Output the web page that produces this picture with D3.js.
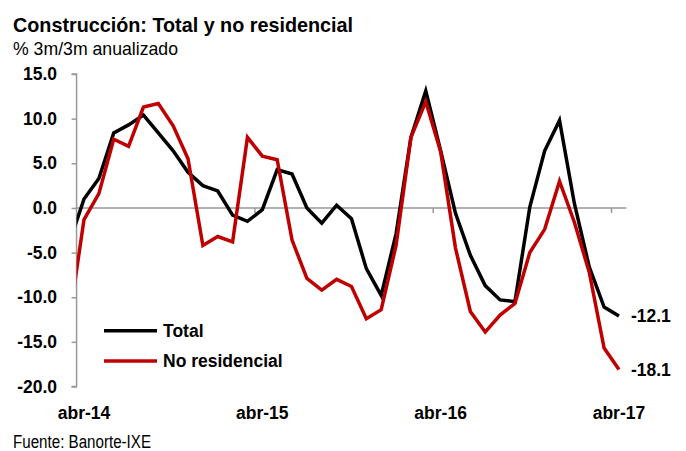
<!DOCTYPE html>
<html lang="es">
<head>
<meta charset="UTF-8">
<title>Construcción</title>
<script src="https://d3js.org/d3.v7.min.js"></script>
<style>
  body { margin: 0; background: #fff; }
  text { font-family: "Liberation Sans", Arial, sans-serif; }
</style>
</head>
<body>
<div id="chart"></div>
<script>
// months (first point mar-14 sits left of the axis and gets clipped)
var months = ["mar-14","abr-14","may-14","jun-14","jul-14","ago-14","sep-14","oct-14","nov-14","dic-14",
  "ene-15","feb-15","mar-15","abr-15","may-15","jun-15","jul-15","ago-15","sep-15","oct-15","nov-15","dic-15",
  "ene-16","feb-16","mar-16","abr-16","may-16","jun-16","jul-16","ago-16","sep-16","oct-16","nov-16","dic-16",
  "ene-17","feb-17","mar-17","abr-17"];

var total = [-4.0, 1.0, 3.3, 8.4, 9.3, 10.4, 8.4, 6.4, 4.0, 2.5, 1.9,
  -0.8, -1.5, -0.2, 4.3, 3.8, 0.0, -1.7, 0.3, -1.2, -6.8, -9.8,
  -2.9, 7.9, 13.1, 6.4, -0.6, -5.3, -8.7, -10.3, -10.5, 0.1, 6.4, 9.8,
  0.5, -6.6, -11.1, -12.1];

var noResidencial = [-12.7, -1.3, 1.6, 7.7, 6.9, 11.3, 11.7, 9.2, 5.5, -4.2, -3.2,
  -3.8, 7.9, 5.8, 5.4, -3.6, -7.9, -9.2, -8.0, -8.8, -12.4, -11.4,
  -4.2, 7.9, 11.9, 6.3, -4.5, -11.6, -13.9, -12.0, -10.7, -5.0, -2.4, 3.0,
  -1.6, -7.2, -15.7, -18.1];

var xLabels = ["abr-14", "abr-15", "abr-16", "abr-17"];
var yTicks = [-20, -15, -10, -5, 0, 5, 10, 15];

var width = 686, height = 451;
var step = 14.86;
var left = 84 - step / 2, right = 84 + 36.5 * step;

var svg = d3.select("#chart").append("svg")
  .attr("width", width)
  .attr("height", height);

var x = d3.scalePoint()
  .domain(months)
  .range([84 - step, 84 + 36 * step]);

var y = d3.scaleLinear()
  .domain([-20, 15])
  .range([386.5, 74]);

// title / subtitle / source
svg.append("text").attr("x", 13).attr("y", 32)
  .attr("font-size", 21).attr("font-weight", "bold")
  .attr("textLength", 340).attr("lengthAdjust", "spacingAndGlyphs")
  .text("Construcción: Total y no residencial");
svg.append("text").attr("x", 13).attr("y", 55)
  .attr("font-size", 19)
  .attr("textLength", 165).attr("lengthAdjust", "spacingAndGlyphs")
  .text("% 3m/3m anualizado");
svg.append("text").attr("x", 13).attr("y", 448)
  .attr("font-size", 18)
  .attr("textLength", 138).attr("lengthAdjust", "spacingAndGlyphs")
  .text("Fuente: Banorte-IXE");

// y axis
var yAxis = svg.append("g")
  .attr("transform", "translate(" + left + ",0)")
  .call(d3.axisLeft(y).tickValues(yTicks).tickSize(5).tickPadding(14.5)
    .tickFormat(function (d) { return d.toFixed(1); }));
yAxis.select(".domain").attr("stroke", "#999").attr("stroke-width", 1.5)
  .attr("d", "M-5," + y(-20) + "H0V" + y(15) + "H-5");
yAxis.selectAll(".tick line").attr("stroke", "#999").attr("stroke-width", 1.5);
yAxis.selectAll(".tick text")
  .attr("font-family", "Liberation Sans, Arial, sans-serif")
  .attr("font-size", 17.5).attr("font-weight", "bold").attr("fill", "#000");

// x axis along zero
svg.append("line")
  .attr("x1", left).attr("x2", right)
  .attr("y1", y(0)).attr("y2", y(0))
  .attr("stroke", "#999").attr("stroke-width", 1.5);

var yearMarks = ["mar-15", "mar-16", "mar-17"];
svg.selectAll(".xtick").data(yearMarks).enter().append("line")
  .attr("x1", function (d) { return x(d) + step / 2; })
  .attr("x2", function (d) { return x(d) + step / 2; })
  .attr("y1", y(0)).attr("y2", y(0) + 5)
  .attr("stroke", "#999").attr("stroke-width", 1.5);

svg.selectAll(".xlabel").data(xLabels).enter().append("text")
  .attr("x", function (d) { return x(d); })
  .attr("y", 419)
  .attr("text-anchor", "middle")
  .attr("font-size", 17.5).attr("font-weight", "bold")
  .text(function (d) { return d; });

// lines
svg.append("clipPath").attr("id", "plot")
  .append("rect").attr("x", left).attr("y", 0).attr("width", right - left + 20).attr("height", height);

var line = d3.line()
  .x(function (d, i) { return x(months[i]); })
  .y(function (d) { return y(d); });

svg.append("path").datum(total)
  .attr("clip-path", "url(#plot)")
  .attr("fill", "none").attr("stroke", "#000").attr("stroke-width", 3.5)
  .attr("stroke-linejoin", "miter")
  .attr("d", line);

svg.append("path").datum(noResidencial)
  .attr("clip-path", "url(#plot)")
  .attr("fill", "none").attr("stroke", "#c00000").attr("stroke-width", 3.5)
  .attr("stroke-linejoin", "miter")
  .attr("d", line);

// end labels
var last = months.length - 1;
[total, noResidencial].forEach(function (s) {
  svg.append("text")
    .attr("x", x(months[last]) + 12)
    .attr("y", y(s[last]))
    .attr("dy", "0.35em")
    .attr("font-size", 17.5).attr("font-weight", "bold")
    .text(s[last].toFixed(1));
});

// legend
var legend = [{ name: "Total", color: "#000" }, { name: "No residencial", color: "#c00000" }];
var lg = svg.selectAll(".legend").data(legend).enter().append("g")
  .attr("transform", function (d, i) { return "translate(104," + (330.7 + i * 30.3) + ")"; });
lg.append("line").attr("x1", 0).attr("x2", 53)
  .attr("stroke", function (d) { return d.color; }).attr("stroke-width", 3.5);
lg.append("text").attr("x", 59).attr("dy", "0.35em")
  .attr("font-size", 17.5).attr("font-weight", "bold")
  .text(function (d) { return d.name; });
</script>
</body>
</html>
